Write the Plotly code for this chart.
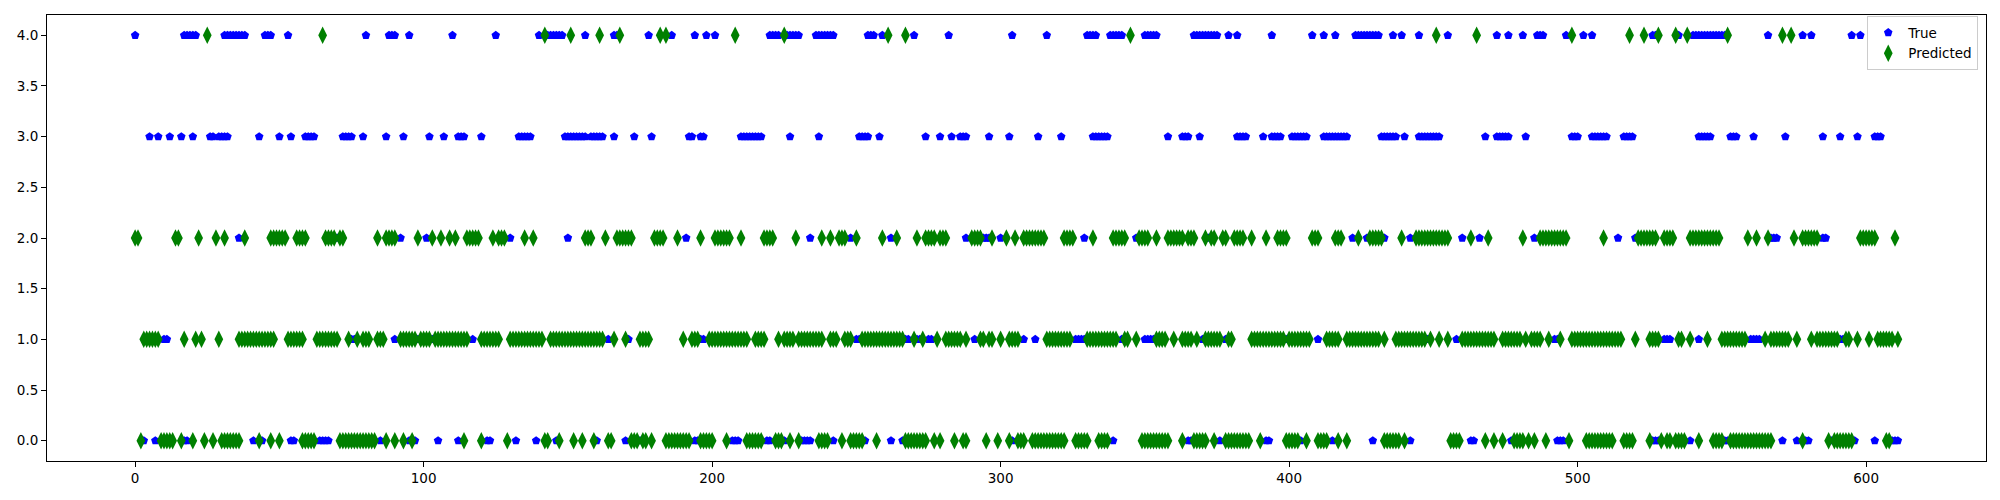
import plotly.graph_objects as go

# Sample index runs [start, end] (inclusive), per class level.
# "True" markers that are visible (blue pentagons)
true_runs_4 = [[0,0],[17,21],[31,38],[45,47],[53,53],[80,80],[88,90],[95,95],[110,110],[125,125],[140,140],[143,148],[156,156],[166,167],[178,178],[186,186],[194,194],[198,198],[201,201],[220,223],[226,230],[236,242],[254,256],[259,259],[270,270],[282,282],[304,304],[316,316],[330,333],[338,342],[350,354],[367,375],[379,379],[382,382],[394,394],[408,408],[412,412],[416,416],[423,431],[436,436],[439,439],[445,445],[455,455],[472,472],[476,476],[481,481],[486,488],[496,496],[502,502],[505,505],[526,527],[535,535],[540,551],[566,566],[578,578],[581,581],[595,595],[598,598]]
true_runs_3 = [[5,5],[8,8],[12,12],[16,16],[20,20],[26,27],[29,32],[43,43],[50,50],[54,54],[59,62],[72,75],[79,79],[87,87],[93,93],[102,102],[107,107],[112,114],[120,120],[133,137],[149,156],[158,162],[166,166],[173,173],[179,179],[192,193],[196,197],[210,217],[227,227],[237,237],[251,254],[258,258],[274,274],[279,279],[283,283],[286,288],[296,296],[303,303],[313,313],[321,321],[332,337],[358,358],[363,365],[369,369],[382,385],[391,391],[394,397],[401,406],[412,420],[432,437],[440,440],[445,452],[468,468],[472,476],[482,482],[498,500],[505,510],[516,519],[542,546],[553,555],[561,561],[572,572],[585,585],[591,591],[597,597],[603,605]]
true_runs_2 = [[36,36],[70,70],[92,92],[101,101],[130,130],[150,150],[191,191],[234,234],[248,248],[262,262],[288,288],[294,296],[300,300],[329,329],[347,347],[372,372],[422,422],[427,427],[433,433],[442,442],[460,460],[466,466],[485,485],[514,514],[520,520],[567,569],[585,586]]
true_runs_1 = [[10,11],[75,76],[90,90],[98,98],[103,103],[117,117],[155,155],[164,164],[171,171],[196,197],[250,251],[267,268],[271,272],[275,276],[291,291],[308,308],[312,312],[319,319],[326,329],[342,342],[350,353],[370,370],[378,378],[399,399],[410,410],[448,448],[458,458],[492,493],[530,532],[542,542],[560,563],[591,592]]
true_runs_0 = [[3,3],[7,7],[17,18],[41,41],[44,44],[54,55],[64,67],[85,85],[95,95],[97,97],[105,105],[112,112],[122,123],[132,132],[139,139],[146,146],[160,160],[170,170],[175,175],[194,195],[207,209],[219,220],[225,225],[231,234],[242,242],[253,253],[262,262],[266,266],[304,304],[339,339],[354,355],[365,366],[376,376],[392,393],[404,404],[415,415],[429,429],[442,442],[463,464],[477,477],[493,495],[526,528],[539,539],[551,552],[571,571],[576,576],[579,580],[588,588],[596,596],[603,603],[609,611]]

# "Predicted" markers (green diamonds)
pred_runs_4 = [[25,25],[65,65],[142,142],[151,151],[161,161],[168,168],[182,182],[184,184],[208,208],[225,225],[261,261],[267,267],[345,345],[451,451],[465,465],[498,498],[518,518],[523,523],[528,528],[534,534],[538,538],[552,552],[571,571],[574,574]]
pred_runs_3 = []
pred_runs_2 = [[0,1],[14,15],[22,22],[28,28],[31,31],[38,38],[47,52],[56,59],[66,69],[71,72],[84,84],[87,90],[98,98],[103,103],[106,106],[109,109],[111,111],[115,119],[124,124],[126,128],[135,135],[138,138],[156,158],[163,163],[167,172],[180,183],[188,188],[196,196],[201,206],[210,210],[218,221],[229,229],[238,238],[241,241],[244,246],[250,250],[259,259],[264,264],[271,271],[274,277],[279,281],[290,293],[297,297],[302,302],[305,305],[308,315],[322,325],[332,332],[339,343],[348,351],[354,354],[358,363],[365,367],[371,371],[373,374],[377,378],[381,384],[387,387],[392,392],[396,399],[408,410],[416,418],[424,424],[428,432],[439,439],[444,455],[463,463],[469,469],[481,481],[487,496],[509,509],[521,527],[530,533],[539,549],[559,559],[562,562],[566,566],[575,575],[578,583],[598,603],[610,610]]
pred_runs_1 = [[3,8],[17,17],[21,21],[23,23],[29,29],[36,48],[53,58],[63,70],[74,74],[77,77],[79,81],[84,86],[92,97],[99,102],[104,115],[120,126],[130,141],[144,162],[166,166],[170,170],[175,178],[190,190],[193,195],[199,212],[215,218],[223,223],[225,228],[230,238],[241,243],[246,248],[252,266],[270,270],[273,273],[278,278],[281,286],[288,288],[293,294],[296,297],[300,300],[303,306],[316,324],[330,340],[343,344],[347,347],[354,357],[360,360],[363,366],[368,368],[371,376],[379,380],[387,398],[400,407],[413,417],[420,431],[433,433],[437,447],[449,449],[452,452],[455,455],[460,471],[474,480],[482,482],[484,487],[490,490],[494,494],[498,515],[520,520],[525,528],[535,536],[539,539],[545,545],[550,558],[565,565],[567,573],[576,576],[581,581],[583,590],[593,594],[597,597],[601,601],[604,609],[611,611]]
pred_runs_0 = [[2,2],[9,13],[16,16],[20,20],[24,24],[27,27],[30,36],[43,43],[47,47],[50,50],[58,62],[71,83],[87,87],[90,90],[93,93],[96,96],[114,114],[120,120],[129,129],[142,143],[147,147],[152,152],[155,155],[159,159],[164,165],[172,174],[176,177],[179,179],[184,192],[196,200],[205,205],[212,217],[222,224],[227,227],[230,230],[237,240],[245,245],[248,252],[257,257],[267,274],[277,277],[279,279],[284,284],[287,288],[295,295],[299,299],[303,303],[306,308],[311,322],[326,330],[334,337],[349,358],[363,363],[367,371],[374,374],[378,386],[390,390],[399,403],[406,406],[410,413],[417,417],[420,420],[433,438],[440,440],[456,459],[468,468],[471,471],[474,474],[478,481],[483,483],[485,485],[489,489],[497,497],[503,512],[516,519],[525,525],[529,529],[531,532],[534,537],[542,542],[547,550],[553,567],[578,578],[587,587],[589,595],[607,608]]

levels = [0, 1, 2, 3, 4]
true_runs = {0: true_runs_0, 1: true_runs_1, 2: true_runs_2, 3: true_runs_3, 4: true_runs_4}
pred_runs = {0: pred_runs_0, 1: pred_runs_1, 2: pred_runs_2, 3: pred_runs_3, 4: pred_runs_4}

x_ticks = [0, 100, 200, 300, 400, 500, 600]
y_ticks = [0.0, 0.5, 1.0, 1.5, 2.0, 2.5, 3.0, 3.5, 4.0]


def expand(runs_by_level):
    xs, ys = [], []
    for lv in levels:
        for a, b in runs_by_level[lv]:
            for i in range(a, b + 1):
                xs.append(i)
                ys.append(lv)
    return xs, ys


tx, ty = expand(true_runs)
px, py = expand(pred_runs)

fig = go.Figure()
fig.add_trace(go.Scatter(x=tx, y=ty, mode="markers", name="True",
                         marker=dict(symbol="pentagon", size=9, color="#0000ff",
                                     line=dict(width=0))))
fig.add_trace(go.Scatter(x=px, y=py, mode="markers", name="Predicted",
                         marker=dict(symbol="diamond-tall", size=12.5, color="#008000",
                                     line=dict(width=0))))

axis_common = dict(showline=True, linecolor="black", linewidth=1, mirror=True,
                   ticks="outside", ticklen=5, tickwidth=1, tickcolor="black",
                   showgrid=False, zeroline=False, automargin=False,
                   tickfont=dict(family="DejaVu Sans", size=13.5, color="black"))

fig.update_layout(
    template="none",
    width=2000, height=500,
    paper_bgcolor="white", plot_bgcolor="white",
    margin=dict(l=47, r=14, t=15, b=39, pad=0),
    xaxis=dict(range=[-30.55, 641.55], tickvals=x_ticks,
               ticktext=[str(v) for v in x_ticks], **axis_common),
    yaxis=dict(range=[-0.2, 4.2], tickvals=y_ticks,
               ticktext=[f"{v:.1f}" for v in y_ticks], **axis_common),
    legend=dict(x=0.996, y=0.997, xanchor="right", yanchor="top",
                bgcolor="rgba(255,255,255,0.8)", bordercolor="#cccccc", borderwidth=1,
                font=dict(family="DejaVu Sans", size=13.5, color="black")),
    showlegend=True,
)

fig.write_html("out.html", config={"displayModeBar": False},
               post_script="document.body.style.margin='0px';document.body.style.padding='0px';")
